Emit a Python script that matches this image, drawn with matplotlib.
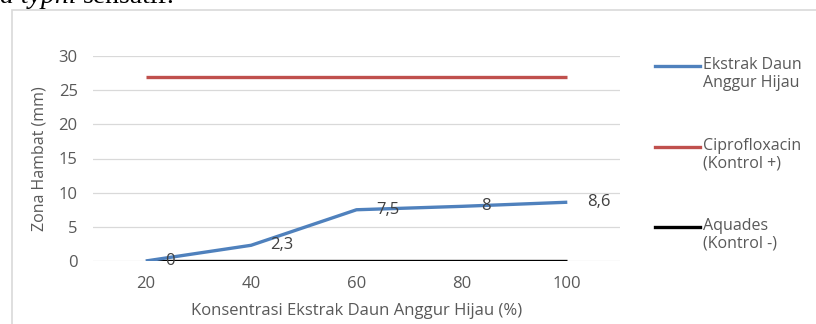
import matplotlib
matplotlib.use('Agg')
import matplotlib.pyplot as plt
from matplotlib.lines import Line2D
from matplotlib.patches import Rectangle

plt.rcParams['font.family'] = ['Open Sans', 'DejaVu Sans']

konsentrasi = ['20', '40', '60', '80', '100']
ekstrak = [0, 2.3, 7.5, 8, 8.6]
ciprofloxacin = [27, 27, 27, 27, 27]
aquades = [0, 0, 0, 0, 0]
nilai_label = ['0', '2,3', '7,5', '8', '8,6']

seri = [
    ('Ekstrak Daun\nAnggur Hijau', ekstrak, '#4f81bd'),
    ('Ciprofloxacin\n(Kontrol +)', ciprofloxacin, '#c0504d'),
    ('Aquades\n(Kontrol -)', aquades, '#000000'),
]

abu = '#595959'

fig = plt.figure(figsize=(8.16, 3.24), dpi=100)
ax = fig.add_axes([93 / 816, 1 - 261 / 324, 527 / 816, 205 / 324])

x = list(range(len(konsentrasi)))
# controls first so the extract line sits on top
for nama, nilai, warna in [seri[1], seri[2], seri[0]]:
    ax.plot(x, nilai, color=warna, lw=2.4, solid_capstyle='butt', zorder=3)

for xi, yi, lab in zip(x, ekstrak, nilai_label):
    ax.annotate(lab, (xi, yi), xytext=(14, 0), textcoords='offset points',
                ha='left', va='center', fontsize=12, color='#404040', zorder=4)

ax.set_xlim(-0.5, len(konsentrasi) - 0.5)
ax.set_ylim(0, 30)
ax.set_yticks(range(0, 31, 5))
ax.set_xticks(x)
ax.set_xticklabels(konsentrasi)
ax.grid(axis='y', color='#d9d9d9', lw=0.9)
ax.set_axisbelow(True)
for s in ax.spines.values():
    s.set_visible(False)
ax.tick_params(length=0, colors=abu, labelsize=12)
ax.tick_params(axis='y', pad=11)
ax.tick_params(axis='x', pad=11)
ax.set_xlabel('Konsentrasi Ekstrak Daun Anggur Hijau (%)', fontsize=12, color=abu, labelpad=8)
ax.set_ylabel('Zona Hambat (mm)', fontsize=11.5, color=abu, labelpad=8)

# legend on the right, handle level with the first text line
ly = [66, 147, 227]
for (nama, nilai, warna), yy in zip(seri, ly):
    yf = 1 - yy / 324
    fig.add_artist(Line2D([655 / 816, 700 / 816], [yf, yf], color=warna, lw=2.4,
                          transform=fig.transFigure))
    fig.text(703 / 816, 1 - (yy - 9) / 324, nama, fontsize=11.5, color=abu, va='top',
             linespacing=1.15, transform=fig.transFigure)

# chart frame
fig.add_artist(Rectangle((12 / 816, -0.2), 1.2, 1 - 10 / 324 + 0.2, transform=fig.transFigure,
                         fill=False, edgecolor='#d9d9d9', lw=1.2))

# caption line from the page above
fig.text(77 / 816, 1 - 3 / 324, 'a typhi', fontsize=20, family='Liberation Serif',
         style='italic', ha='right', va='baseline')
fig.text(83 / 816, 1 - 3 / 324, 'sensatif.', fontsize=20, family='Liberation Serif',
         ha='left', va='baseline')

fig.savefig('out.png', dpi=100)
